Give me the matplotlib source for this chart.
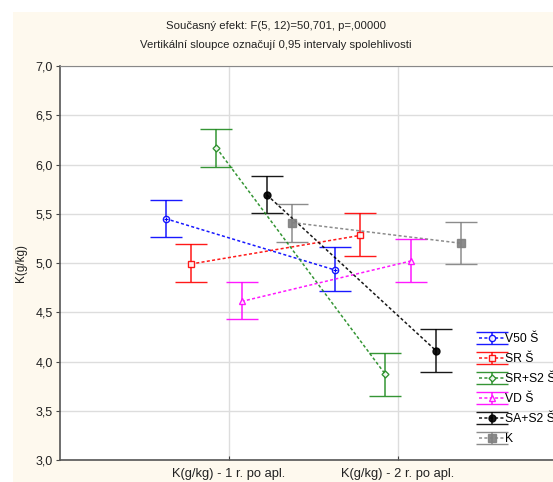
import matplotlib.pyplot as plt
from matplotlib.patches import Rectangle
from matplotlib.ticker import FuncFormatter

plt.rcParams["font.family"] = ["Liberation Sans", "DejaVu Sans"]

# category means with 0.95 confidence limits, per treatment
series = ["V50 Š", "SR Š", "SR+S2 Š", "VD Š", "SA+S2 Š", "K"]
categories = ["K(g/kg) - 1 r. po apl.", "K(g/kg) - 2 r. po apl."]
means = [
    [5.45, 4.93],
    [4.99, 5.28],
    [6.17, 3.87],
    [4.61, 5.02],
    [5.69, 4.11],
    [5.41, 5.20],
]
lower = [
    [5.26, 4.72],
    [4.81, 5.07],
    [5.97, 3.65],
    [4.43, 4.81],
    [5.51, 3.89],
    [5.21, 4.99],
]
upper = [
    [5.64, 5.16],
    [5.19, 5.51],
    [6.36, 4.09],
    [4.81, 5.24],
    [5.88, 4.33],
    [5.60, 5.42],
]

colors = ["#0000ff", "#ff0000", "#1f8a1f", "#ff00ff", "#000000", "#808080"]
markers = ["o", "s", "D", "^", "o", "s"]
filled = [False, False, False, False, True, True]
msizes = [4.5, 5, 3.5, 5, 5, 5.5]
offsets = [-0.375, -0.225, -0.075, 0.075, 0.225, 0.375]

fig = plt.figure(figsize=(5.53, 4.82), dpi=100)
fig.patches.append(
    Rectangle((13 / 553, 0), 1, 1 - 12 / 482, transform=fig.transFigure,
              facecolor="#fef9ee", edgecolor="none", zorder=-10)
)
ax = fig.add_axes([60 / 553, 22 / 482, 507 / 553, 394 / 482])

for i, name in enumerate(series):
    xs = [1 + offsets[i], 2 + offsets[i]]
    ys = means[i]
    yerr = [[m - lo for m, lo in zip(ys, lower[i])],
            [hi - m for m, hi in zip(ys, upper[i])]]
    ax.errorbar(
        xs, ys, yerr=yerr,
        color=colors[i], ecolor=colors[i],
        linestyle=(0, (2, 1.5)), linewidth=1.1, alpha=0.9,
        marker=markers[i], markersize=msizes[i],
        markerfacecolor=colors[i] if filled[i] else "white",
        markeredgecolor=colors[i], markeredgewidth=1.0,
        elinewidth=1.1, capsize=11.5, capthick=1.1,
        label=name, zorder=3,
    )
    if i == 0:
        ax.plot(xs, ys, linestyle="none", marker="+", markersize=3.5,
                color=colors[i], markeredgewidth=0.8, zorder=4)

ax.set_xlim(0, 3)
ax.set_ylim(3.0, 7.0)
ax.set_xticks([1, 2])
ax.set_xticklabels(categories, fontsize=9.3, color="#222222")
ax.set_yticks([3.0 + 0.5 * k for k in range(9)])
ax.yaxis.set_major_formatter(FuncFormatter(lambda v, p: f"{v:.1f}".replace(".", ",")))
ax.tick_params(axis="y", direction="out", length=3, labelsize=9.0,
               colors="#444444", labelcolor="#222222", pad=2)
ax.tick_params(axis="x", direction="in", length=3, pad=6, colors="#444444",
               labelcolor="#222222")
ax.grid(True, color="#dddddd", linewidth=1.0, zorder=0)
ax.set_axisbelow(True)
for side in ["left", "bottom"]:
    ax.spines[side].set_color("#555555")
    ax.spines[side].set_linewidth(1.2)
ax.spines["top"].set_color("#888888")
ax.spines["right"].set_visible(False)

ax.set_ylabel("K(g/kg)", fontsize=8.5, color="#222222", labelpad=6)

fig.text(276 / 553, 1 - 26 / 482, "Současný efekt: F(5, 12)=50,701, p=,00000",
         ha="center", va="center", fontsize=8.2, color="#222222")
fig.text(276 / 553, 1 - 45 / 482, "Vertikální sloupce označují 0,95 intervaly spolehlivosti",
         ha="center", va="center", fontsize=8.2, color="#222222")

leg = ax.legend(loc="upper left", bbox_to_anchor=(477 / 553, 1 - 331 / 482),
                bbox_transform=fig.transFigure, fontsize=8.7, frameon=False,
                handlelength=2.0, handletextpad=0.1, labelspacing=0.66,
                borderpad=0.2, borderaxespad=0)

fig.savefig("out.png", dpi=100)
